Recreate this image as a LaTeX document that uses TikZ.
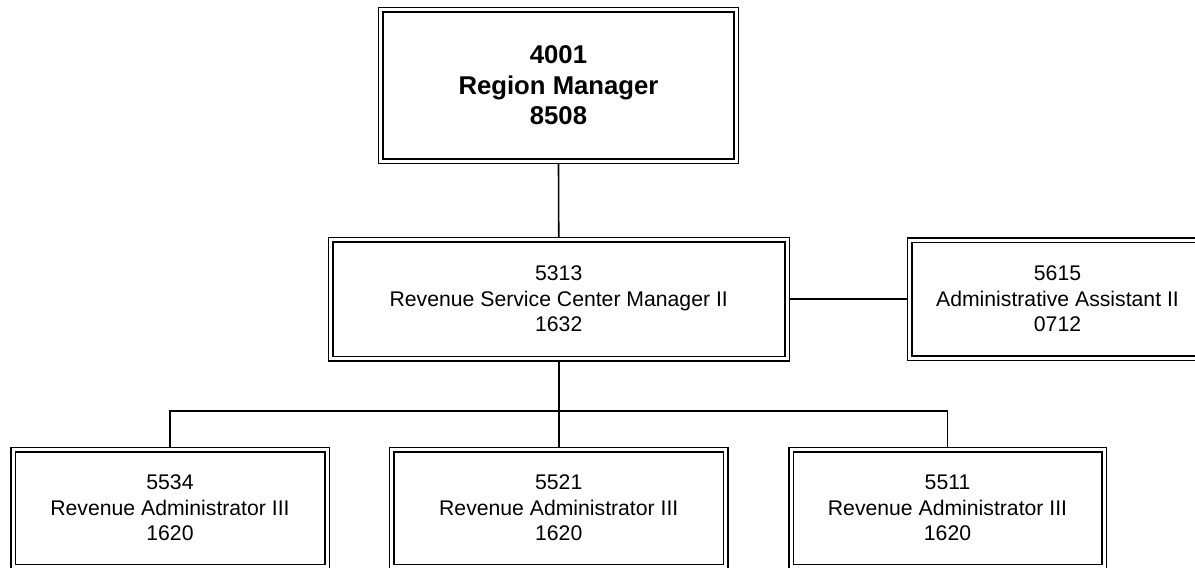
\documentclass[tikz,border=0pt]{standalone}
\usepackage{fontspec}
\setmainfont{Liberation Sans}
\usetikzlibrary{backgrounds}
\begin{document}
\begin{tikzpicture}[x=1pt,y=-1pt,
  posbox/.style={draw=black, line width=1.5pt, double=white, double distance=3pt,
    fill=white, rectangle, inner sep=0pt, align=center,
    font=\fontsize{21.2}{25.4}\selectfont},
  headbox/.style={posbox, font=\fontsize{25.7}{30.8}\selectfont\bfseries},
  link/.style={draw=black, line width=1.6pt}]
\useasboundingbox (0,0) rectangle (1195,568);
\clip (0,0) rectangle (1195,568);

% positions
\node[headbox, minimum width=355.5pt, minimum height=151.5pt] (rm) at (558.5,85.25)
  {4001\\Region Manager\\8508};
\node[posbox, minimum width=456.5pt, minimum height=119pt] (rscm) at (558.75,299)
  {5313\\Revenue Service Center Manager II\\1632};
\node[posbox, minimum width=296pt, minimum height=118pt] (aa) at (1057.5,299)
  {5615\\Administrative Assistant II\\0712};
\node[posbox, minimum width=314pt, minimum height=117pt] (ra1) at (170,508)
  {5534\\Revenue Administrator III\\1620};
\node[posbox, minimum width=334pt, minimum height=117pt] (ra2) at (558.75,508)
  {5521\\Revenue Administrator III\\1620};
\node[posbox, minimum width=313pt, minimum height=117pt] (ra3) at (947.5,508)
  {5511\\Revenue Administrator III\\1620};

\coordinate (bus) at (558.75,411);

% reporting lines
\begin{pgfonlayer}{background}
  \draw[link] (rm.south) -- (rscm.north);
  \draw[link] (rscm.east) -- (aa.west);
  \draw[link] (rscm.south) -- (bus);
  \draw[link] (ra1.north) |- (bus) -| (ra3.north);
  \draw[link] (bus) -- (ra2.north);
\end{pgfonlayer}
\end{tikzpicture}
\end{document}
